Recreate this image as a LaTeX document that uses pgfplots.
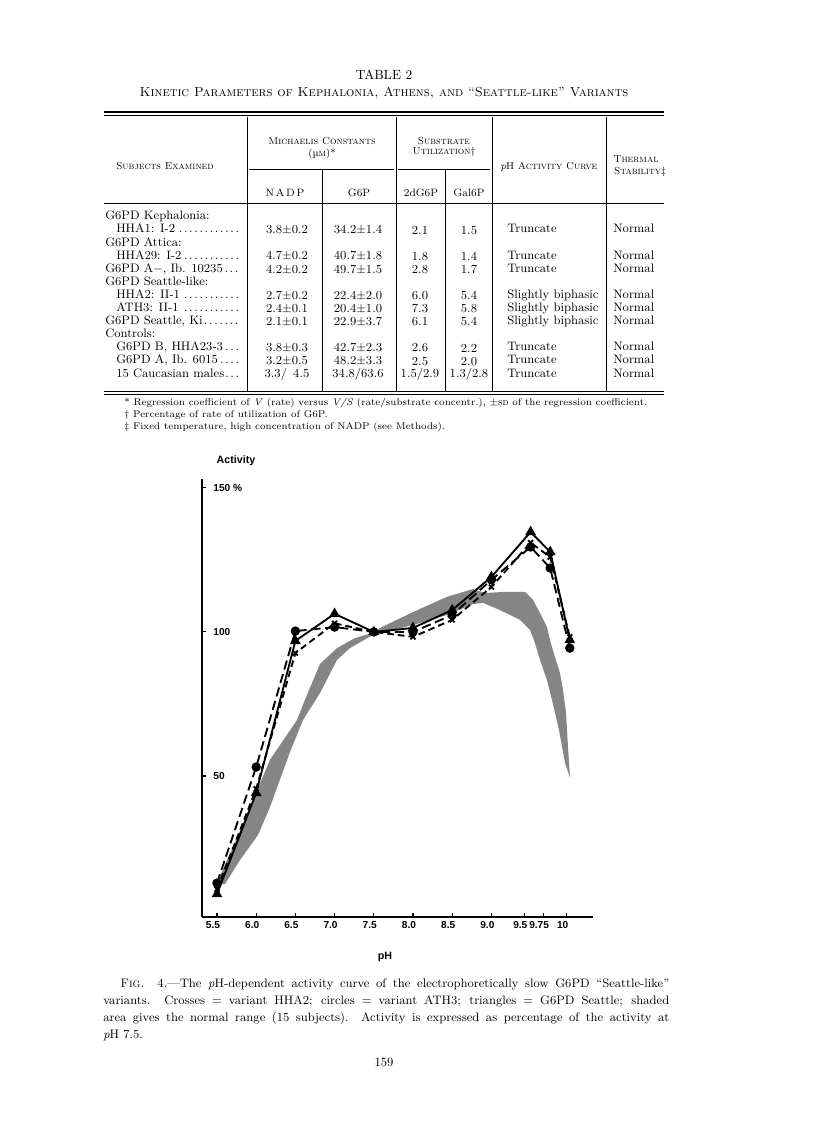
\documentclass[border=0pt]{standalone}
\usepackage{fontspec}
\usepackage{pgfplots}
\pgfplotsset{compat=1.18}
\newfontfamily\chartfont{Liberation Sans}
\def\lead{\leaders\hbox to 0.42em{\hss.\hss}\hfill}
\newcommand\trow[9]{%
  \node[tb, anchor=mid west] at (#2,#1) {#3};
  \node[tb] at (287,#1) {#4};
  \node[tb] at (358,#1) {#5};
  \node[tb] at (420,#1) {#6};
  \node[tb] at (469,#1) {#7};
  \node[tb, anchor=mid west] at (507,#1) {#8};
  \node[tb, anchor=mid west] at (613,#1) {#9};
}
\newcommand\ind[1]{\makebox[96pt][l]{#1\lead}}
\newcommand\noind[1]{\makebox[104.25pt][l]{#1\lead}}
\begin{document}
\begin{tikzpicture}[x=0.75pt,y=-0.75pt,
  tb/.style={font=\fontsize{9.2}{10}\selectfont, inner sep=0pt},
  hd/.style={font=\fontsize{7.6}{8.5}\selectfont, inner sep=0pt},
  fn/.style={font=\fontsize{7.3}{8.5}\selectfont, inner sep=0pt, anchor=mid west},
  cp/.style={font=\fontsize{9.2}{10.5}\selectfont, inner sep=0pt, anchor=mid west}]
\path[fill=white] (0,0) rectangle (816,1122);
% ---------- Table ----------
\node[font=\fontsize{10}{11}\selectfont, inner sep=0pt] at (384,75) {TABLE 2};
\node[font=\fontsize{9.8}{11}\selectfont, inner sep=0pt] at (384,93) {\textsc{Kinetic Parameters of Kephalonia, Athens, and “Seattle-like” Variants}};
\draw[line width=0.9pt] (104,112) -- (664,112);
\draw[line width=0.5pt] (104,115.5) -- (664,115.5);
\foreach \xx in {247,396,492,606} \draw[line width=0.6pt] (\xx,117) -- (\xx,391);
\foreach \xx in {322,445} \draw[line width=0.6pt] (\xx,169) -- (\xx,391);
\draw[line width=0.6pt] (249,169) -- (394,169);
\draw[line width=0.6pt] (398,169) -- (490,169);
\draw[line width=0.6pt] (104,203) -- (664,203);
\draw[line width=0.6pt] (104,391) -- (664,391);
\draw[line width=0.6pt] (104,394) -- (664,394);
\node[hd] at (165,166) {\textsc{Subjects Examined}};
\node[hd] at (322,141) {\textsc{Michaelis Constants}};
\node[hd] at (322,154) {(\textmu\textsc{m})*};
\node[hd] at (444,141) {\textsc{Substrate}};
\node[hd] at (444,152) {\textsc{Utilization}\textdagger};
\node[hd] at (549,167) {\textit{p}H \textsc{Activity Curve}};
\node[hd] at (636,159) {\textsc{Thermal}};
\node[hd] at (640,172) {\textsc{Stability}\textdaggerdbl};
\node[hd, font=\fontsize{8}{9}\selectfont] at (285,193) {N\,A\,D\,P};
\node[hd, font=\fontsize{8}{9}\selectfont] at (359,193) {G6P};
\node[hd, font=\fontsize{8}{9}\selectfont] at (421,193) {2dG6P};
\node[hd, font=\fontsize{8}{9}\selectfont] at (469,193) {Gal6P};
\node[tb, anchor=mid west] at (105,217) {G6PD Kephalonia:};
\trow{230.1}{116}{\ind{HHA1: I-2}}{3.8$\pm$0.2}{34.2$\pm$1.4}{2.1}{1.5}{Truncate}{Normal}
\node[tb, anchor=mid west] at (105,243.2) {G6PD Attica:};
\trow{256.3}{116}{\ind{HHA29: I-2}}{4.7$\pm$0.2}{40.7$\pm$1.8}{1.8}{1.4}{Truncate}{Normal}
\trow{269.4}{105}{\noind{G6PD A$-$, Ib. 10235}}{4.2$\pm$0.2}{49.7$\pm$1.5}{2.8}{1.7}{Truncate}{Normal}
\node[tb, anchor=mid west] at (105,282.5) {G6PD Seattle-like:};
\trow{295.6}{116}{\ind{HHA2: II-1}}{2.7$\pm$0.2}{22.4$\pm$2.0}{6.0}{5.4}{Slightly biphasic}{Normal}
\trow{308.7}{116}{\ind{ATH3: II-1}}{2.4$\pm$0.1}{20.4$\pm$1.0}{7.3}{5.8}{Slightly biphasic}{Normal}
\trow{321.8}{105}{\noind{G6PD Seattle, Ki}}{2.1$\pm$0.1}{22.9$\pm$3.7}{6.1}{5.4}{Slightly biphasic}{Normal}
\node[tb, anchor=mid west] at (105,334.9) {Controls:};
\trow{348}{116}{\ind{G6PD B, HHA23-3}}{3.8$\pm$0.3}{42.7$\pm$2.3}{2.6}{2.2}{Truncate}{Normal}
\trow{361.1}{116}{\ind{G6PD A, Ib. 6015}}{3.2$\pm$0.5}{48.2$\pm$3.3}{2.5}{2.0}{Truncate}{Normal}
\trow{374.2}{116}{\ind{15 Caucasian males}}{3.3/\enspace4.5}{34.8/63.6}{1.5/2.9}{1.3/2.8}{Truncate}{Normal}
\node[fn] at (124,403) {* Regression coefficient of \textit{V} (rate) versus \textit{V/S} (rate/substrate concentr.), $\pm$\textsc{sd} of the regression coefficient.};
\node[fn] at (124,415) {\textdagger\ Percentage of rate of utilization of G6P.};
\node[fn] at (124,427) {\textdaggerdbl\ Fixed temperature, high concentration of NADP (see Methods).};
% ---------- Chart ----------
\node[font=\chartfont\bfseries\fontsize{8}{9}\selectfont, inner sep=0pt] at (236,461) {Activity};
\node[font=\chartfont\bfseries\fontsize{8}{9}\selectfont, inner sep=0pt] at (385,957) {pH};
\begin{axis}[
  at={(151.5pt,-687.75pt)}, anchor=south west,
  scale only axis, width=293.25pt, height=328.5pt,
  xmin=5.309, xmax=10.296, ymin=1.04, ymax=153.1,
  axis x line=bottom, axis y line=left,
  axis line style={-, line width=1.2pt},
  xtick={5.5,6,6.5,7,7.5,8,8.5,9,9.42,9.66,9.96},
  xticklabels={5.5,6.0,6.5,7.0,7.5,8.0,8.5,9.0,9.5,9.75,10},
  ytick={50,100,150}, yticklabels={50,100,150 \%},
  tick align=inside, major tick length=3pt,
  tick style={line width=0.8pt, black},
  yticklabel style={anchor=west, xshift=5pt},
  xticklabel style={xshift=-3pt},
  tick label style={font=\chartfont\bfseries\fontsize{7.6}{8}\selectfont},
  clip=false,
]
\addplot[fill=black!48, draw=none] coordinates {
 (5.526,14.6) (5.704,25.3) (5.921,39.2) (6.176,55.6) (6.520,69.4) (6.622,76.4)
 (6.712,82.3) (6.814,88.9) (7.031,94.4) (7.260,97.9) (7.490,99.7)
 (7.579,101.4) (8.0,106.9) (8.434,112.2) (8.765,114.9) (8.918,113.5) (9.148,113.9)
 (9.429,113.9) (9.531,111.1) (9.620,106.6) (9.709,101.7) (9.747,97.2) (9.811,91.3)
 (9.875,85.8) (9.913,79.9) (9.952,71.9) (9.977,60.1) (10.003,49.3)
 (9.939,54.5) (9.862,66.0) (9.773,76.4) (9.709,83.3) (9.620,90.3) (9.556,96.2)
 (9.492,100.7) (9.365,104.2) (9.110,107.6) (8.893,110.1) (8.765,109.7) (8.434,105.9)
 (8.0,102.4) (7.579,99.7) (7.490,99.0) (7.196,94.4) (7.031,90.3) (6.814,78.8)
 (6.597,69.4) (6.431,58.3) (6.176,39.2) (6.023,29.5) (5.793,20.8) (5.602,12.5) (5.513,12.5)
} -- cycle;
\addplot[line width=1.4pt, black, mark=triangle*, mark size=3.3pt, mark options={solid}] coordinates {
 (5.5,9.0) (6.0,44.1) (6.5,96.9) (7.0,106.3) (7.5,100) (8.0,101.4) (8.5,107.6)
 (9.0,119.1) (9.5,134.7) (9.75,127.8) (10,97.2)};
\addplot[line width=1.4pt, black, dash pattern=on 7pt off 3.5pt, mark=*, mark size=2.8pt, mark options={solid}] coordinates {
 (5.5,12.8) (6.0,53.1) (6.5,100.3) (7.0,101.7) (7.5,100) (8.0,100.0) (8.5,105.9)
 (9.0,118.1) (9.5,129.5) (9.75,122.2) (10,94.4)};
\addplot[line width=1.4pt, black, dash pattern=on 5pt off 3pt, mark=x, mark size=2.6pt, mark options={solid}] coordinates {
 (5.5,10.7) (6.0,45.5) (6.5,92.7) (7.0,103) (7.5,100) (8.0,98.3) (8.5,104.2)
 (9.0,115.6) (9.5,131.0) (9.75,126.0) (10,98.3)};
\end{axis}
% ---------- Caption ----------
\node[cp] at (120,985) {\makebox[411.75pt][s]{\textsc{Fig.} 4.---The \textit{p}H-dependent activity curve of the electrophoretically slow G6PD “Seattle-like”}};
\node[cp] at (103,1002) {\makebox[424.5pt][s]{variants. Crosses = variant HHA2; circles = variant ATH3; triangles = G6PD Seattle; shaded}};
\node[cp] at (103,1019) {\makebox[424.5pt][s]{area gives the normal range (15 subjects). Activity is expressed as percentage of the activity at}};
\node[cp] at (103,1036) {\textit{p}H 7.5.};
\node[font=\fontsize{9.5}{10}\selectfont, inner sep=0pt] at (384,1062) {159};
\end{tikzpicture}
\end{document}
